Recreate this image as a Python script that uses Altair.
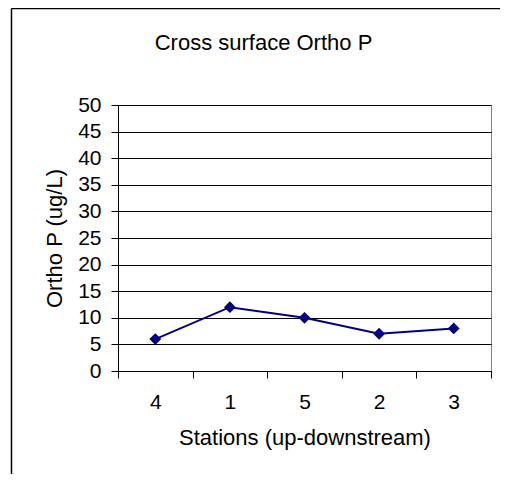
import altair as alt
import pandas as pd

stations = ["4", "1", "5", "2", "3"]
ortho_p = [6, 12, 10, 7, 8]
y_ticks = [0, 5, 10, 15, 20, 25, 30, 35, 40, 45, 50]

df = pd.DataFrame({"station": stations, "value": ortho_p})
FONT = "Liberation Sans"

x_enc = alt.X(
    "station:N",
    sort=stations,
    scale=alt.Scale(type="band", paddingInner=0, paddingOuter=0),
    axis=alt.Axis(
        title="Stations (up-downstream)",
        labelAngle=0,
        tickBand="extent",
        tickSize=7,
        tickColor="black",
        domainColor="black",
        labelFontSize=21,
        labelPadding=13,
        labelColor="black",
        titleFontSize=22,
        titleFontWeight="normal",
        titleColor="black",
        titlePadding=15,
        grid=False,
    ),
)
y_enc = alt.Y(
    "value:Q",
    scale=alt.Scale(domain=[0, 50], nice=False, zero=True),
    axis=alt.Axis(
        title="Ortho P (ug/L)",
        values=y_ticks,
        tickSize=7,
        tickColor="black",
        domainColor="black",
        gridColor="black",
        gridOpacity=1,
        labelFontSize=21,
        labelPadding=10,
        labelColor="black",
        titleFontSize=22,
        titleFontWeight="normal",
        titleColor="black",
        titlePadding=11,
    ),
)

line = alt.Chart(df).mark_line(color="#000080", strokeWidth=2).encode(x=x_enc, y=y_enc)
pts = alt.Chart(df).mark_point(
    shape="diamond", filled=True, color="#000080", size=140, opacity=1
).encode(x=x_enc, y=y_enc)

frame_df = pd.DataFrame({"k": [0]})
frame_left = alt.Chart(frame_df).mark_rule(color="black", strokeWidth=1.5).encode(
    x=alt.value(-106.5), y=alt.value(-96.5), y2=alt.value(600)
)
frame_top = alt.Chart(frame_df).mark_rule(color="black", strokeWidth=1.5).encode(
    y=alt.value(-96.5), x=alt.value(-106.5), x2=alt.value(600)
)

chart = (
    alt.layer(frame_left, frame_top, line, pts)
    .properties(
        width=373,
        height=266,
        autosize=alt.AutoSizeParams(type="none"),
        padding={"left": 110, "top": 97, "right": 9, "bottom": 103},
        title=alt.TitleParams(
            "Cross surface Ortho P",
            fontSize=22,
            fontWeight="normal",
            font=FONT,
            color="black",
            anchor="middle",
            frame="group",
            baseline="alphabetic",
            dx=-41,
            offset=-64,
        ),
    )
    .configure(font=FONT)
    .configure_view(stroke="#808080", strokeWidth=1)
    .configure_axis(labelFont=FONT, titleFont=FONT)
)

chart.save("out.html", embed_options={"renderer": "svg", "actions": False})
